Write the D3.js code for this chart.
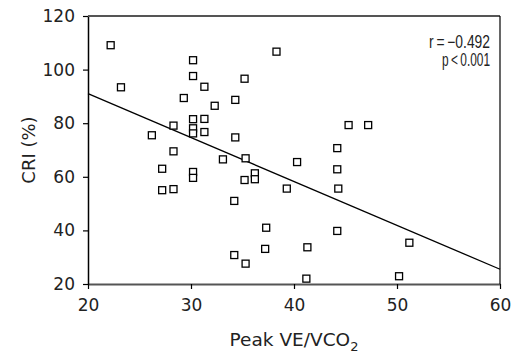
<!DOCTYPE html>
<html lang="en">

<head>
	<title>CRI vs Peak VE/VCO2</title>
	<meta charset="utf-8">
	<script src="https://d3js.org/d3.v7.min.js"></script>
	<style>
		body {
			margin: 0;
			background: #fff;
		}

		svg text {
			font-family: "DejaVu Sans", sans-serif;
			fill: #222;
		}
	</style>
</head>

<body>
	<div id="container1"></div>
	<script>
		// Data
		const peakVE = [22.2, 23.2, 30.2, 30.2, 31.3, 29.3, 32.3, 34.3, 35.2, 38.3,
			28.3, 26.2, 30.2, 31.3, 30.2, 30.2, 31.3, 34.3, 28.3, 27.2,
			27.2, 28.3, 30.2, 30.2, 33.1, 35.3, 35.2, 36.2, 36.2, 39.3,
			34.2, 37.3, 37.2, 34.2, 35.3, 44.2, 40.3, 44.2, 44.3, 44.2,
			41.3, 51.2, 41.2, 50.2, 45.3, 47.2];
		const cri = [109.1, 93.4, 103.5, 97.6, 93.6, 89.4, 86.5, 88.7, 96.6, 106.7,
			79.1, 75.5, 81.5, 81.6, 78.1, 76.2, 76.7, 74.7, 69.5, 63.0,
			55.0, 55.4, 61.8, 59.6, 66.5, 66.9, 58.8, 61.3, 59.1, 55.6,
			51.0, 41.0, 33.1, 30.8, 27.6, 70.7, 65.5, 62.8, 55.6, 39.8,
			33.7, 35.4, 22.0, 22.9, 79.3, 79.3];

		// Regression line end points
		const fitX = [20, 60];
		const fitY = [91, 25.5];

		const xTicks = [20, 30, 40, 50, 60];
		const yTicks = [20, 40, 60, 80, 100, 120];
		const statLines = ["r\u2009=\u2009\u22120.492", "p\u2009<\u20090.001"];

		// Create chart dimensions
		const width = 514;
		const height = 354;
		const margin = {
			top: 16,
			right: 14,
			bottom: 70,
			left: 88
		};

		const innerWidth = width - margin.left - margin.right;
		const innerHeight = height - margin.top - margin.bottom;

		const svg = d3.select("#container1")
			.append("svg")
			.attr("width", width)
			.attr("height", height);

		const bounds = svg.append("g")
			.attr("transform", `translate(${margin.left}, ${margin.top})`);

		// Create scales
		const xScale = d3.scaleLinear()
			.domain([20, 60])
			.range([0, innerWidth]);

		const yScale = d3.scaleLinear()
			.domain([20, 120])
			.range([innerHeight, 0]);

		// Axes
		const xAxis = bounds.append("g")
			.attr("transform", `translate(0, ${innerHeight})`)
			.call(d3.axisBottom(xScale)
				.tickValues(xTicks)
				.tickSize(5)
				.tickPadding(10)
				.tickSizeOuter(0));

		const yAxis = bounds.append("g")
			.call(d3.axisLeft(yScale)
				.tickValues(yTicks)
				.tickSize(5)
				.tickPadding(8)
				.tickSizeOuter(0));

		[xAxis, yAxis].forEach(g => {
			g.attr("font-size", 17)
				.attr("font-family", "DejaVu Sans, sans-serif");
			g.selectAll("text").attr("fill", "#222");
			g.selectAll("line").attr("stroke", "#000").attr("stroke-width", 1.2);
		});
		xAxis.select(".domain").attr("stroke", "#555").attr("stroke-width", 2);
		yAxis.select(".domain").attr("stroke", "#000").attr("stroke-width", 1.5);

		// Frame top and right
		bounds.append("line")
			.attr("x1", 0)
			.attr("x2", innerWidth)
			.attr("y1", yScale(120))
			.attr("y2", yScale(120))
			.attr("stroke", "#555")
			.attr("stroke-width", 2);

		bounds.append("line")
			.attr("x1", innerWidth)
			.attr("x2", innerWidth)
			.attr("y1", 0)
			.attr("y2", innerHeight)
			.attr("stroke", "#000")
			.attr("stroke-width", 1.2);

		// Regression line
		bounds.append("line")
			.attr("x1", xScale(fitX[0]))
			.attr("y1", yScale(fitY[0]))
			.attr("x2", xScale(fitX[1]))
			.attr("y2", yScale(fitY[1]))
			.attr("stroke", "#000")
			.attr("stroke-width", 1.3);

		// Draw data
		const size = 7;
		bounds.selectAll(".point")
			.data(d3.range(peakVE.length))
			.enter()
			.append("rect")
			.attr("class", "point")
			.attr("x", i => xScale(peakVE[i]) - size / 2)
			.attr("y", i => yScale(cri[i]) - size / 2)
			.attr("width", size)
			.attr("height", size)
			.attr("fill", "#fff")
			.attr("stroke", "#000")
			.attr("stroke-width", 1.3);

		// Labels
		const xLabel = svg.append("text")
			.attr("x", margin.left + innerWidth / 2)
			.attr("y", 346)
			.attr("text-anchor", "middle")
			.attr("font-size", "18.5px");
		xLabel.append("tspan").text("Peak VE/VCO");
		xLabel.append("tspan")
			.attr("font-size", "13px")
			.attr("dy", "5")
			.text("2");

		svg.append("text")
			.attr("transform", `translate(35, ${margin.top + innerHeight / 2}) rotate(-90)`)
			.attr("text-anchor", "middle")
			.attr("font-size", "18px")
			.text("CRI (%)");

		// Correlation text, squeezed to the narrow face of the original
		const statWidths = [61, 48];
		const stat = svg.append("text")
			.attr("y", 48)
			.attr("text-anchor", "end")
			.style("font-family", "'Liberation Sans', sans-serif")
			.attr("font-size", "17.5px");

		stat.selectAll("tspan")
			.data(statLines)
			.enter()
			.append("tspan")
			.attr("x", 490)
			.attr("dy", (d, i) => i === 0 ? 0 : 17.7)
			.attr("textLength", (d, i) => statWidths[i])
			.attr("lengthAdjust", "spacingAndGlyphs")
			.text(d => d);
	</script>
</body>

</html>
